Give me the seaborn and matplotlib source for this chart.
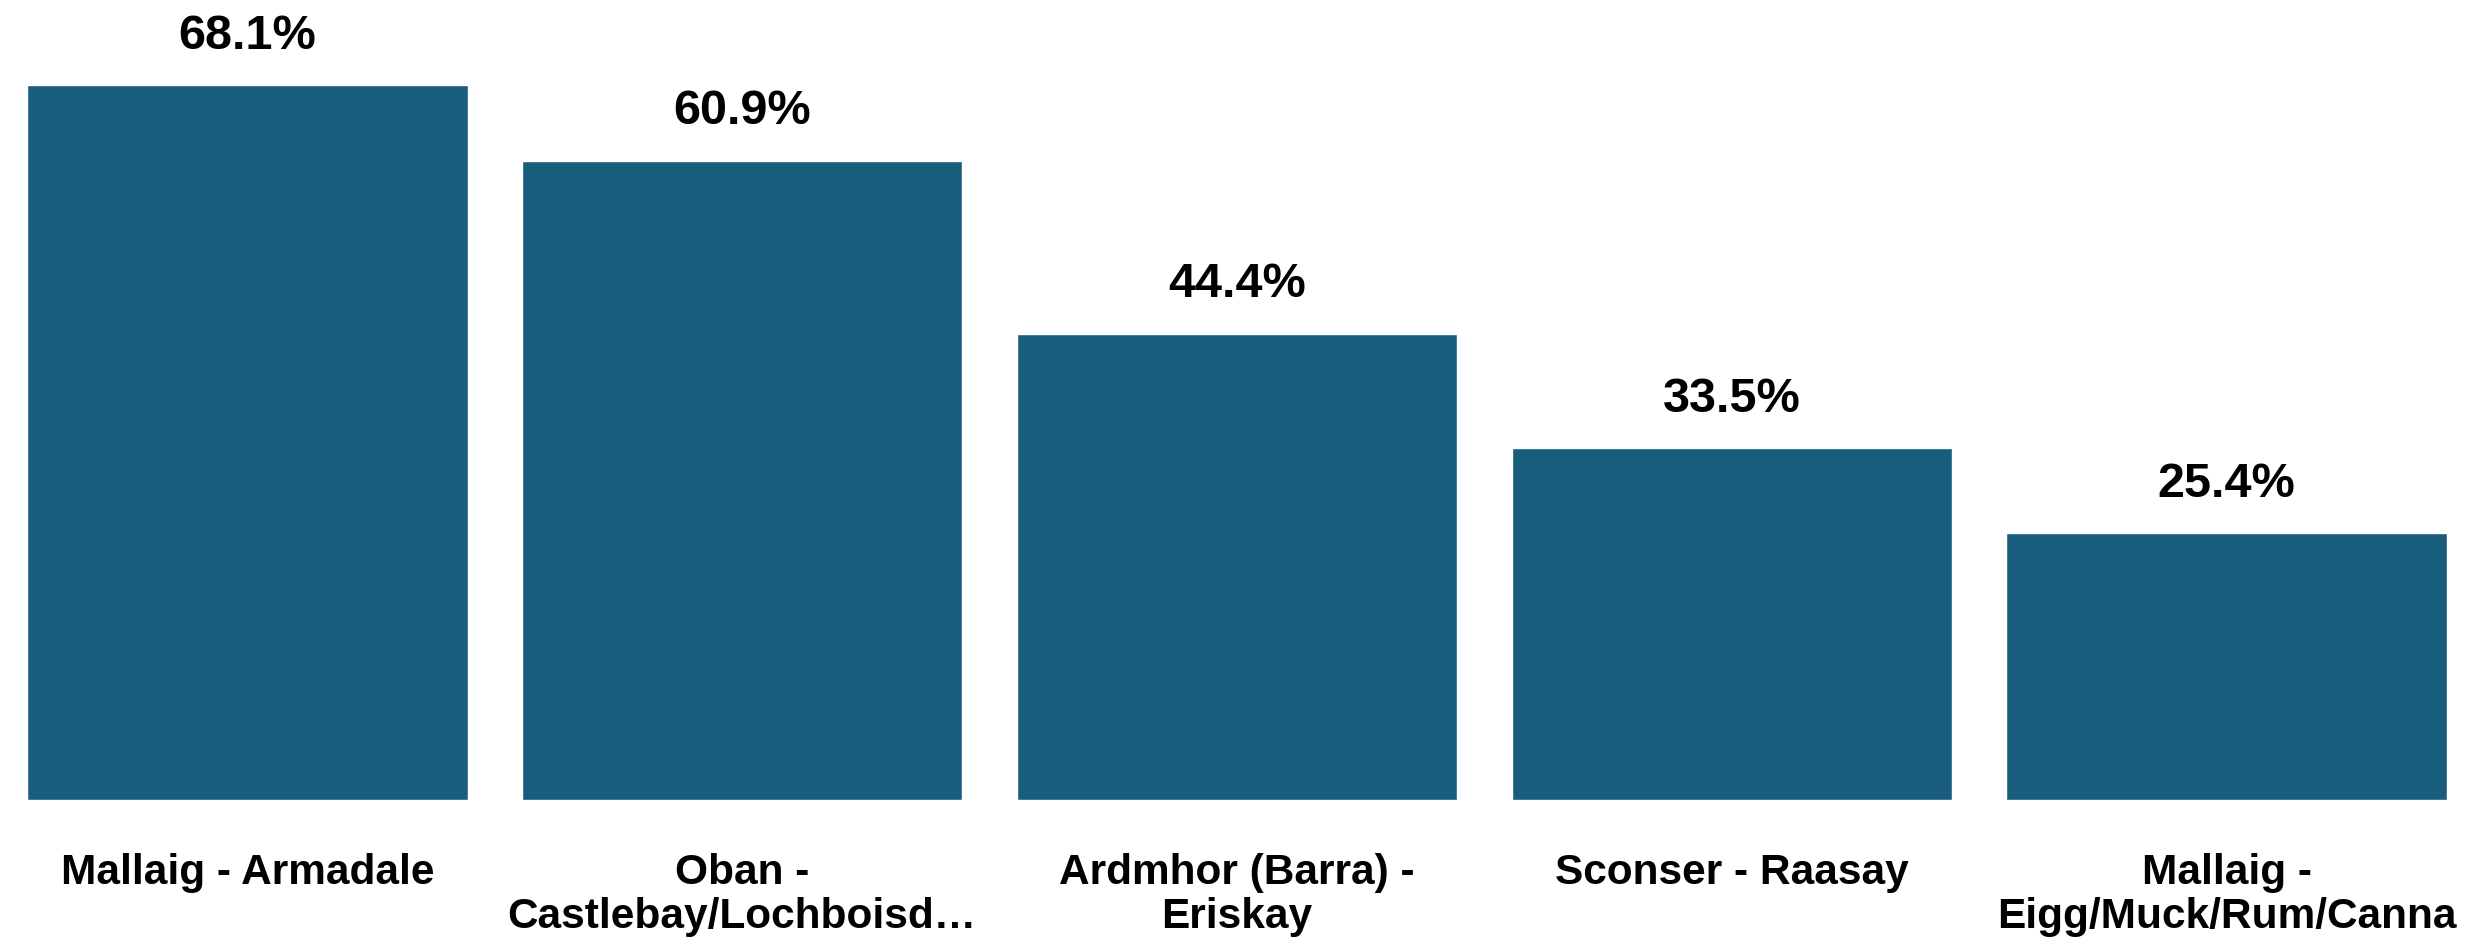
import matplotlib
matplotlib.use("Agg")
import matplotlib.pyplot as plt
import seaborn as sns
import pandas as pd

categories = [
    "Mallaig - Armadale",
    "Oban -\nCastlebay/Lochboisd…",
    "Ardmhor (Barra) -\nEriskay",
    "Sconser - Raasay",
    "Mallaig -\nEigg/Muck/Rum/Canna",
]
values = [68.1, 60.9, 44.4, 33.5, 25.4]
value_labels = ["68.1%", "60.9%", "44.4%", "33.5%", "25.4%"]

sns.set_theme(style="white")
plt.rcParams["font.family"] = ["Liberation Sans", "DejaVu Sans"]

df = pd.DataFrame({"route": categories, "pct": values})

fig = plt.figure(figsize=(24.74, 9.43), dpi=100)
ax = fig.add_axes([0, 143 / 943, 1, 800 / 943])
sns.barplot(data=df, x="route", y="pct", color="#195d7d", saturation=1,
            width=0.89, ax=ax)
ax.set_xlim(-0.5, 4.5)
ax.set_ylim(0, 76.2)
ax.bar_label(ax.containers[0], labels=value_labels, padding=19,
             fontsize=35, fontweight="bold", color="black")
for s in ax.spines.values():
    s.set_visible(False)
ax.set_yticks([])
ax.set_xlabel("")
ax.set_ylabel("")
ax.tick_params(axis="x", length=0, pad=38)
for t in ax.get_xticklabels():
    t.set_fontsize(30.5)
    t.set_fontweight("bold")
    t.set_color("black")
    t.set_linespacing(1.15)
    t.set_verticalalignment("top")

fig.savefig("out.png", dpi=100, facecolor="white")
